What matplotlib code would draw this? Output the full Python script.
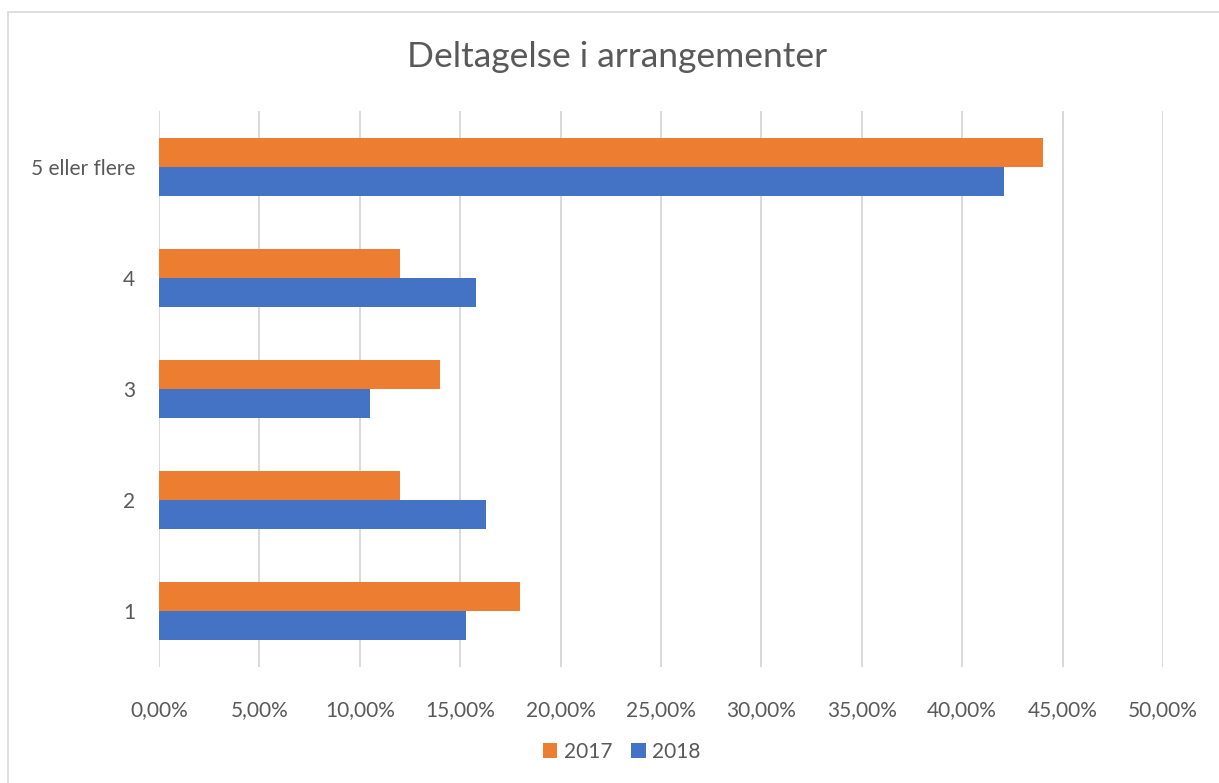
import numpy as np
import matplotlib.pyplot as plt
from matplotlib.patches import Rectangle
from matplotlib.ticker import FuncFormatter

categories = ["1", "2", "3", "4", "5 eller flere"]
v2017 = [18.0, 12.0, 14.0, 12.0, 44.0]
v2018 = [15.3, 16.3, 10.5, 15.8, 42.1]

plt.rcParams["font.family"] = ["Lato", "DejaVu Sans"]
txt = "#595959"
grid = "#d9d9d9"

fig = plt.figure(figsize=(12.19, 7.83), dpi=100)
ax = fig.add_axes([159 / 1219, 1 - 667 / 783, (1163 - 159) / 1219, (667 - 111) / 783])

y = np.arange(len(categories))
h = 0.26
ax.barh(y + h / 2, v2017, height=h, color="#ED7D31", label="2017", zorder=3)
ax.barh(y - h / 2, v2018, height=h, color="#4472C4", label="2018", zorder=3)

ax.set_xlim(0, 50)
ax.set_ylim(-0.5, 4.5)
ax.set_xticks(np.arange(0, 51, 5))
ax.xaxis.set_major_formatter(FuncFormatter(lambda v, p: f"{v:.2f}%".replace(".", ",")))
ax.set_yticks(y)
ax.set_yticklabels(categories)
ax.grid(axis="x", color=grid, linewidth=1.4, zorder=0)
for s in ax.spines.values():
    s.set_visible(False)
ax.tick_params(axis="both", length=0, labelsize=15, labelcolor=txt)
ax.tick_params(axis="x", pad=24)
ax.tick_params(axis="y", pad=17)

fig.text(0.506, 1 - 57 / 783, "Deltagelse i arrangementer", ha="center", va="center",
         fontsize=25.5, color=txt)

handles, labels = ax.get_legend_handles_labels()
fig.legend(handles, labels, loc="center", bbox_to_anchor=(621.5 / 1219, 1 - 752 / 783), ncol=2,
           frameon=False, fontsize=15, labelcolor=txt, handlelength=0.7, handleheight=0.7,
           handletextpad=0.3, columnspacing=0.9)

fig.patches.append(Rectangle((7.5 / 1219, -0.1), 1.2, 1 - 12.5 / 783 + 0.1,
                             transform=fig.transFigure, fill=False, edgecolor=grid,
                             linewidth=1.2))

fig.savefig("out.png", dpi=100)
